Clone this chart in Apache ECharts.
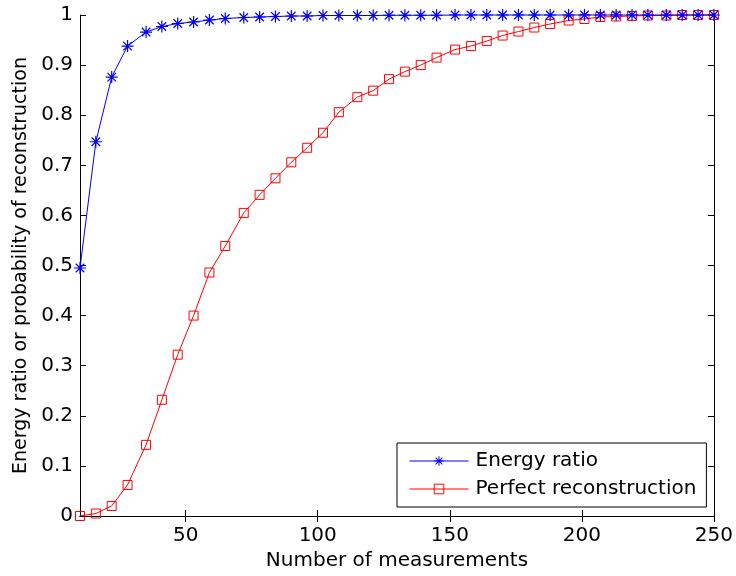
<!DOCTYPE html>
<html>
<head>
<meta charset="utf-8">
<script src="https://cdn.jsdelivr.net/npm/echarts@6/dist/echarts.min.js"></script>
<style>
html,body{margin:0;padding:0;background:#fff;}
#chart{width:736px;height:576px;}
</style>
</head>
<body>
<div id="chart"></div>
<script>
const xValues = [10,16,22,28,35,41,47,53,59,65,72,78,84,90,96,102,108,115,121,127,133,139,145,152,158,164,170,176,182,188,195,201,207,213,219,225,232,238,244,250];
const energyRatio = [0.495,0.747,0.876,0.938,0.966,0.977,0.983,0.986,0.990,0.993,0.995,0.996,0.997,0.998,0.998,0.999,0.999,0.999,0.999,0.9995,0.9995,0.9995,0.9995,1,1,1,1,1,1,1,1,1,1,1,1,1,1,1,1,1];
const perfectRecon = [0,0.005,0.02,0.062,0.142,0.232,0.322,0.40,0.486,0.539,0.605,0.641,0.674,0.706,0.735,0.765,0.806,0.836,0.849,0.872,0.887,0.900,0.915,0.931,0.938,0.948,0.959,0.967,0.975,0.982,0.989,0.992,0.996,0.997,0.998,0.999,0.999,1,1,1];
const xTicks = [50,100,150,200,250];
const yTickLabels = ['0','0.1','0.2','0.3','0.4','0.5','0.6','0.7','0.8','0.9','1'];
const seriesNames = ['Energy ratio','Perfect reconstruction'];
const xName = 'Number of measurements';
const yName = 'Energy ratio or probability of reconstruction';

const FONT = 'DejaVu Sans';
const starPath = 'path://M0,9H20V11H0Z M9,0H11V20H9Z M2.22,3.64L3.64,2.22L17.78,16.36L16.36,17.78Z M16.36,2.22L17.78,3.64L3.64,17.78L2.22,16.36Z';

const chart = echarts.init(document.getElementById('chart'), null, {renderer:'canvas'});
const axisLine = {show:true, lineStyle:{color:'#000', width:1}};
chart.setOption({
  animation:false,
  backgroundColor:'#fff',
  grid:{left:80, right:20, top:15, bottom:60, containLabel:false},
  xAxis:[{
    type:'value', min:10, max:250, position:'bottom',
    name:xName, nameLocation:'middle', nameGap:33,
    nameTextStyle:{fontFamily:FONT, fontSize:20, color:'#000'},
    axisLine:axisLine,
    splitLine:{show:false},
    axisTick:{show:true, inside:true, length:6, customValues:xTicks, lineStyle:{color:'#000'}},
    axisLabel:{show:true, customValues:xTicks, margin:10, fontFamily:FONT, fontSize:20, color:'#000'}
  },{
    type:'value', min:10, max:250, position:'top',
    axisLine:axisLine,
    splitLine:{show:false},
    axisTick:{show:true, inside:true, length:6, customValues:xTicks, lineStyle:{color:'#000'}},
    axisLabel:{show:false}
  }],
  yAxis:[{
    type:'value', min:0, max:1, interval:0.1, position:'left',
    name:yName, nameLocation:'middle', nameGap:47,
    nameTextStyle:{fontFamily:FONT, fontSize:19, color:'#000'},
    axisLine:axisLine,
    splitLine:{show:false},
    axisTick:{show:true, inside:true, length:6, lineStyle:{color:'#000'}},
    axisLabel:{show:true, margin:7, fontFamily:FONT, fontSize:20, color:'#000',
      formatter:function(v){ return yTickLabels[Math.round(v*10)]; }}
  },{
    type:'value', min:0, max:1, interval:0.1, position:'right',
    axisLine:axisLine,
    splitLine:{show:false},
    axisTick:{show:true, inside:true, length:6, lineStyle:{color:'#000'}},
    axisLabel:{show:false}
  }],
  legend:{
    left:397, top:443, orient:'vertical',
    backgroundColor:'#fff', borderColor:'#000', borderWidth:1, borderRadius:0,
    padding:[8,10,8,12], itemGap:8, itemWidth:59, itemHeight:12,
    lineStyle:{width:1},
    itemStyle:{borderWidth:1},
    textStyle:{fontFamily:FONT, fontSize:20, color:'#000', lineHeight:20, padding:[0,0,0,2]},
    data:seriesNames
  },
  series:[{
    name:seriesNames[0], type:'line', xAxisIndex:0, yAxisIndex:0,
    data:xValues.map((x,i)=>[x, energyRatio[i]]),
    symbol:starPath, symbolSize:12, showAllSymbol:true, clip:false,
    lineStyle:{color:'#0000ff', width:1},
    itemStyle:{color:'#0000ff', borderWidth:0},
    z:3
  },{
    name:seriesNames[1], type:'line', xAxisIndex:0, yAxisIndex:0,
    data:xValues.map((x,i)=>[x, perfectRecon[i]]),
    symbol:'rect', symbolSize:9, showAllSymbol:true, clip:false,
    lineStyle:{color:'#ff0000', width:1},
    itemStyle:{color:'rgba(255,255,255,0)', borderColor:'#ff0000', borderWidth:1},
    z:2
  }]
});
</script>
</body>
</html>
